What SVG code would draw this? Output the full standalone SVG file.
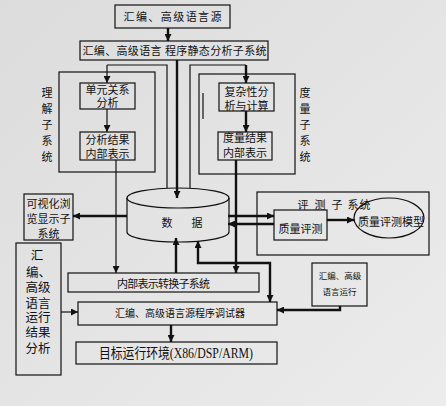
<svg xmlns="http://www.w3.org/2000/svg" width="446" height="406" viewBox="0 0 446 406">
<style>
.b{fill:none;stroke:#111;stroke-width:1.2}
.t{font-family:"Liberation Serif","Noto Sans CJK SC",serif;fill:#111;text-anchor:middle}
.s{font-size:11px}
.thin{fill:none;stroke:#111;stroke-width:1.2}
.thk{fill:none;stroke:#111;stroke-width:2.4}
.ar{marker-end:url(#a)}
</style>
<defs>
<linearGradient id="bg" x1="0" y1="0" x2="1" y2="1">
<stop offset="0" stop-color="#dcdcdc"/>
<stop offset="0.5" stop-color="#e4e4e4"/>
<stop offset="1" stop-color="#ececec"/>
</linearGradient>
<marker id="a" viewBox="0 0 10 10" refX="10" refY="5" markerWidth="8" markerHeight="7" markerUnits="userSpaceOnUse" orient="auto-start-reverse"><path d="M0,0 L10,5 L0,10 z" fill="#111"/></marker>
</defs>
<rect x="0" y="0" width="446" height="406" fill="url(#bg)"/>

<g id="connectors">
<line class="thk ar" x1="168" y1="28" x2="168" y2="41"/>
<line class="thk ar" x1="177" y1="60" x2="177" y2="198"/>
<path class="thin" d="M167,188 V65 H107"/>
<line class="thin ar" x1="107" y1="65" x2="107" y2="83"/>
<path class="thin" d="M190,188 V65 H246"/>
<line class="thk ar" x1="246" y1="65" x2="246" y2="83"/>
<line class="thin ar" x1="107" y1="109" x2="107" y2="132"/>
<line class="thk ar" x1="246" y1="111" x2="246" y2="132"/>
<line class="thin ar" x1="116" y1="160" x2="116" y2="273"/>
<line class="thk ar" x1="236" y1="160" x2="236" y2="273"/>
<line class="thin" x1="203" y1="93" x2="203" y2="119"/>
<line class="thk ar" x1="127" y1="216" x2="73" y2="216"/>
<line class="thk ar" x1="228" y1="216" x2="274" y2="216"/>
<line class="thk ar" x1="274" y1="224" x2="228" y2="224"/>
<line class="thk ar" x1="327" y1="220" x2="354" y2="220"/>
<line class="thk ar" x1="176" y1="273" x2="176" y2="238"/>
<polyline class="thk" points="198,241 198,263 270,263 270,302" marker-start="url(#a)" marker-end="url(#a)"/>
<line class="thin ar" x1="61" y1="312" x2="78" y2="312"/>
<path class="thk ar" d="M340,306 V310 H277"/>
<line class="thk ar" x1="171" y1="325" x2="171" y2="342"/>
</g>

<g id="source">
<rect class="b" x="115" y="5" width="115" height="23"/>
<text class="t s" x="172.5" y="21" textLength="98" lengthAdjust="spacing">汇编、高级语言源</text>
</g>
<g id="static-analysis">
<rect class="b" x="80" y="41" width="188" height="19"/>
<text class="t s" x="174.5" y="55" textLength="184" lengthAdjust="spacing">汇编、高级语言 程序静态分析子系统</text>
</g>
<g id="understand-sub">
<rect class="b" x="59" y="72" width="96" height="100"/>
<text class="t s" x="47" y="97">理</text>
<text class="t s" x="47" y="113">解</text>
<text class="t s" x="47" y="129">子</text>
<text class="t s" x="47" y="145">系</text>
<text class="t s" x="47" y="161">统</text>
</g>
<g id="unit-relation">
<rect class="b" x="80" y="83" width="55" height="26"/>
<text class="t s" x="107.5" y="94">单元关系</text>
<text class="t s" x="107.5" y="107">分析</text>
</g>
<g id="analysis-result">
<rect class="b" x="80" y="132" width="55" height="28"/>
<text class="t s" x="107.5" y="144">分析结果</text>
<text class="t s" x="107.5" y="158">内部表示</text>
</g>
<g id="metric-sub">
<rect class="b" x="199" y="74" width="96" height="100"/>
<text class="t s" x="305" y="97">度</text>
<text class="t s" x="305" y="113">量</text>
<text class="t s" x="305" y="129">子</text>
<text class="t s" x="305" y="145">系</text>
<text class="t s" x="305" y="161">统</text>
</g>
<g id="complexity">
<rect class="b" x="219" y="83" width="55" height="28"/>
<text class="t s" x="246.5" y="96">复杂性分</text>
<text class="t s" x="246.5" y="110">析与计算</text>
</g>
<g id="metric-result">
<rect class="b" x="218" y="132" width="54" height="28"/>
<text class="t s" x="245" y="142">度量结果</text>
<text class="t s" x="245" y="157">内部表示</text>
</g>
<g id="data">
<path class="b" d="M127,198 V232 A51,10 0 0 0 229,232 V198"/>
<ellipse class="b" cx="178" cy="198" rx="51" ry="10"/>
<text class="t s" x="167" y="227">数</text>
<text class="t s" x="197" y="227">据</text>
</g>
<g id="visual">
<rect class="b" x="24" y="194" width="49" height="46"/>
<text class="t s" x="48.5" y="208">可视化浏</text>
<text class="t s" x="48.5" y="223">览显示子</text>
<text class="t s" x="48.5" y="238">系统</text>
</g>
<g id="eval-sub">
<rect class="b" x="257" y="192" width="172" height="63"/>
<text class="t s" x="303 311 320 328 337 345 353 365" y="209" xml:space="preserve">评 测 子 系统</text>
</g>
<g id="quality-eval">
<rect class="b" x="274" y="210" width="53" height="30"/>
<text class="t s" x="300.5" y="233">质量评测</text>
</g>
<g id="quality-model">
<ellipse class="b" cx="389" cy="218" rx="35" ry="20"/>
<text class="t s" x="391" y="226" textLength="66" lengthAdjust="spacing">质量评测模型</text>
</g>
<g id="run-result">
<rect class="b" x="16" y="243" width="45" height="132"/>
<text class="t" style="font-size:12.5px" x="37" y="260">汇</text>
<text class="t" style="font-size:12.5px;text-anchor:start" x="26" y="277">编、</text>
<text class="t" style="font-size:12.5px" x="38" y="292">高级</text>
<text class="t" style="font-size:12.5px" x="38" y="308">语言</text>
<text class="t" style="font-size:12.5px" x="38" y="322">运行</text>
<text class="t" style="font-size:12.5px" x="38" y="337">结果</text>
<text class="t" style="font-size:12.5px" x="38" y="353">分析</text>
</g>
<g id="convert">
<rect class="b" x="68" y="273" width="191" height="19"/>
<text class="t s" x="163.5" y="288" textLength="93" lengthAdjust="spacing">内部表示转换子系统</text>
</g>
<g id="run">
<rect class="b" x="312" y="263" width="55" height="43"/>
<text class="t" style="font-size:8.5px" x="340" y="279">汇编、高级</text>
<text class="t" style="font-size:8.5px" x="339.5" y="295">语言运行</text>
</g>
<g id="debugger">
<rect class="b" x="78" y="302" width="199" height="23"/>
<text class="t" style="font-size:10px" x="180" y="317" textLength="130" lengthAdjust="spacing">汇编、高级语言源程序调试器</text>
</g>
<g id="target">
<rect class="b" x="76" y="342" width="201" height="22"/>
<text class="t" style="font-size:14px" x="176" y="358" textLength="154" lengthAdjust="spacingAndGlyphs">目标运行环境(X86/DSP/ARM)</text>
</g>
</svg>
